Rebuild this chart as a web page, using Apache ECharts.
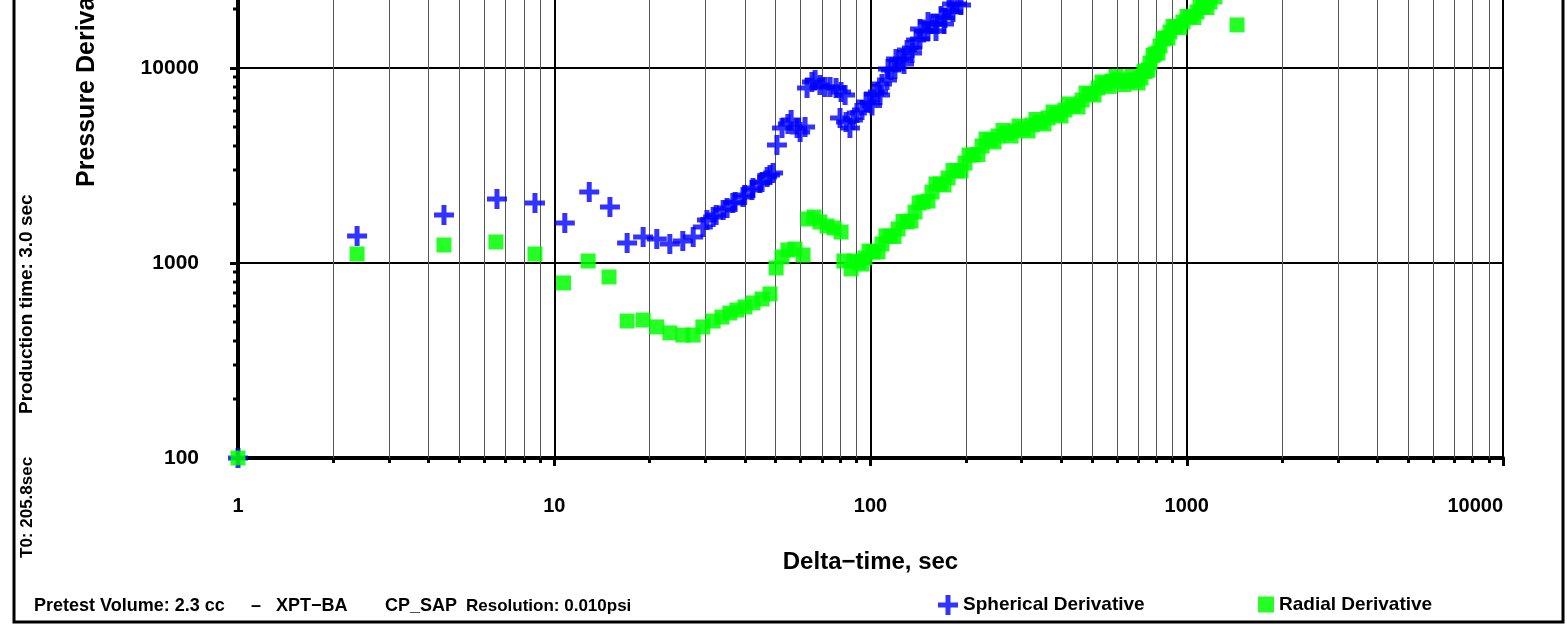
<!DOCTYPE html>
<html><head><meta charset="utf-8">
<script src="https://cdn.jsdelivr.net/npm/echarts@6/dist/echarts.min.js"></script>
<style>html,body{margin:0;padding:0;background:#fff}#c{width:1567px;height:625px}</style>
</head><body><div id="c"></div><script>
// ---- data (delta-time in sec, pressure derivative) ----
const sphericalDerivative = [
[1,100],[2.38,1376],[4.48,1763],[6.59,2130],[8.69,2031],[10.8,1604],[12.9,2313],[15.0,1938],
[17.0,1267],[19.1,1359],[21.1,1328],[23.2,1252],[25.5,1297],[27.5,1359],[29.5,1530],[30.4,1661],
[31.8,1721],[32.5,1763],[34.2,1870],[35.2,1915],[36.7,2031],[37.3,2055],[39.5,2181],[40.0,2232],
[42.2,2368],[42.5,2425],[44.7,2572],[45.4,2603],[47.1,2761],[48.1,2828],[49.2,2894],
[50.6,4028],[52.5,4925],[54.8,5163],[56.1,5412],[58.6,4925],[59.9,4697],[62.1,4983],
[63.0,7898],[65.3,8477],[66.8,8679],[69.2,8181],[71.8,7991],[74.5,7991],[77.8,7898],[80.7,7532],[83.1,7270],
[80.1,5541],[83.7,5285],[86.1,4925],[88.0,5412],[90.6,5878],[94.0,6090],[96.8,6693],[99.6,6615],
[101.1,6424],[102.6,7356],[105.6,7532],[107.2,7270],[108.7,8277],[112.8,8679],[113.6,9882],[116.1,9766],
[119.5,9882],[120.4,11120],[123.1,10990],[126.7,11120],[127.6,10480],[130.5,12370],[135.3,12660],[135.3,11940],
[139.3,13920],[143.4,14080],[143.4,15850],[147.7,15480],[152.0,15480],[152.0,17220],[156.5,16810],
[161.1,15480],[162.3,16810],[167.1,18480],[170.8,16810],[172.0,18050],[177.1,19840],[181.0,21290],
[182.3,19380],[187.7,21290],[193.3,21040]
];
const radialDerivative = [
[1,100],[2.38,1112],[4.48,1237],[6.54,1282],[8.69,1112],[10.7,790],[12.8,1024],[14.9,848],
[17.0,504],[19.1,510],[21.1,470],[23.2,438],[25.5,427],[27.5,427],[29.5,470],[31.8,504],[33.9,528],
[35.9,554],[37.8,574],[40.1,595],[42.5,624],[45.4,654],[48.1,694],[50.3,943],[52.5,1074],[54.8,1166],
[57.7,1180],[61.2,1099],[63.4,1681],[66.3,1721],[69.2,1623],[72.9,1548],[76.7,1512],[80.7,1442],
[82.4,1024],[86.8,932],[88.7,1024],[91.3,1012],[94.0,988],[96.1,1061],[98.9,1152],[101.8,1139],[105.6,1139],
[108.7,1252],[111.9,1376],[115.3,1376],[118.7,1368],[122.2,1494],[126.7,1633],[130.5,1623],[134.3,1642],
[138.3,1826],[142.4,2031],[146.6,2055],[152.0,2079],[156.5,2313],[161.1,2542],[165.9,2542],[170.8,2512],
[175.9,2729],[182.3,2982],[187.7,2964],[193.3,2964],[199.0,3257],[204.9,3579],[210.9,3579],[218.8,3600],
[225.3,3981],[231.9,4324],[238.8,4273],[245.8,4174],[253.1,4480],[262.4,4782],[270.2,4642],[278.2,4480],
[286.4,4753],[294.9,5042],[303.6,4866],[314.8,4753],[324.2,5103],[333.7,5443],[343.6,5285],[353.7,5163],
[364.2,5541],[377.7,5948],[388.9,5808],[400.4,5674],[412.1,6090],[424.4,6539],[436.9,6385],[453.2,6310],
[466.5,6854],[480.3,7443],[494.5,7356],[509.2,7270],[524.1,7898],[539.7,8477],[551.5,8277],[567.9,8042],
[580.2,8577],[597.4,9046],[615.0,8679],[633.3,8229],[652.0,8577],[671.3,9046],[686.2,8679],[701.3,8376],
[716.8,8886],[732.5,9597],[743.3,9652],[754.2,9766],[765.3,10608],[782.2,11590],[793.7,11800],[811.2,11940],
[823.1,12966],[841.3,14080],[853.6,14250],[872.5,14250],[885.2,15300],[904.7,16330],[924.7,16230],
[952.1,16140],[973.0,17220],[1002,18370],[1024,18260],[1054,18160],[1078,19380],[1101,20680],[1126,20550],
[1159,20430],[1185,21800],[1228,23130],[1442,16630]
];
const xMinorTicks = [2,3,4,5,6,7,8,9,20,30,40,50,60,70,80,90,200,300,400,500,600,700,800,900,2000,3000,4000,5000,6000,7000,8000,9000];
const yMinorTicks = [200,300,400,500,600,700,800,900,2000,3000,4000,5000,6000,7000,8000,9000,20000,30000,40000,50000,60000,70000,80000,90000];
const seriesNames = ['Spherical Derivative','Radial Derivative'];
const xTitle = 'Delta\u2212time, sec';
const yTitle = 'Pressure Derivative, psi';

const FONT = '"Liberation Sans", Arial, sans-serif';
const chart = echarts.init(document.getElementById('c'), null, {renderer:'canvas'});
const crossPath = 'path://M7.5,0H12.5V7.5H20V12.5H12.5V20H7.5V12.5H0V7.5H7.5Z';

chart.setOption({
  animation:false,
  backgroundColor:'#fff',
  grid:{left:238,right:64,top:-127,bottom:167,containLabel:false,outerBoundsMode:'none'},
  xAxis:{
    type:'log',logBase:10,min:1,max:10000,
    name:xTitle,nameLocation:'middle',nameGap:92,
    nameTextStyle:{fontFamily:FONT,fontWeight:'bold',fontSize:24,color:'#000'},
    axisLine:{show:true,lineStyle:{color:'#000',width:4}},
    axisTick:{show:true,length:8,lineStyle:{color:'#000',width:3}},
    axisLabel:{margin:38,fontFamily:FONT,fontWeight:'bold',fontSize:20,color:'#000',
      formatter:v=>String(Math.round(v)),alignMaxLabel:'right'},
    splitLine:{show:true,lineStyle:{color:'#000',width:2}},
    minorTick:{show:false},minorSplitLine:{show:false}
  },
  yAxis:{
    type:'log',logBase:10,min:100,max:100000,
    axisLine:{show:true,lineStyle:{color:'#000',width:4}},
    axisTick:{show:true,length:8,lineStyle:{color:'#000',width:3}},
    axisLabel:{margin:39,fontFamily:FONT,fontWeight:'bold',fontSize:21,color:'#000',
      formatter:v=>String(Math.round(v))},
    splitLine:{show:true,lineStyle:{color:'#000',width:2}},
    minorTick:{show:false},minorSplitLine:{show:false}
  },
  legend:[
    {data:[{name:seriesNames[0],icon:crossPath}],left:938,top:595,padding:0,itemWidth:20,itemHeight:20,
     textStyle:{fontFamily:FONT,fontWeight:'bold',fontSize:19,color:'#000'},selectedMode:false},
    {data:[{name:seriesNames[1],icon:'rect'}],left:1258,top:595,padding:0,itemWidth:16,itemHeight:16,
     textStyle:{fontFamily:FONT,fontWeight:'bold',fontSize:19,color:'#000'},selectedMode:false}
  ],
  series:[
    {type:'custom',silent:true,clip:false,z:1,
     data:xMinorTicks.map(v=>[v,100]),
     renderItem:(params,api)=>{
       const cs=params.coordSys;
       const x=Math.round(api.coord([api.value(0),100])[0])+0.5;
       const b=cs.y+cs.height;
       return {type:'group',children:[
         {type:'line',shape:{x1:x,y1:cs.y,x2:x,y2:b},style:{stroke:'#555',lineWidth:1}},
         {type:'line',shape:{x1:x,y1:b,x2:x,y2:b+5},style:{stroke:'#000',lineWidth:3}}
       ]};
     }},
    {type:'custom',silent:true,clip:false,z:1,
     data:yMinorTicks.map(v=>[1,v]),
     renderItem:(params,api)=>{
       const cs=params.coordSys;
       const y=Math.round(api.coord([1,api.value(1)])[1]);
       return {type:'line',shape:{x1:cs.x-5,y1:y,x2:cs.x,y2:y},style:{stroke:'#000',lineWidth:3}};
     }},
    {name:seriesNames[0],type:'scatter',data:sphericalDerivative,symbol:crossPath,symbolSize:20,z:3,
     itemStyle:{color:'#0000ff',opacity:0.8}},
    {name:seriesNames[1],type:'scatter',data:radialDerivative,symbol:'rect',symbolSize:15,z:4,
     itemStyle:{color:'#00ff00',opacity:0.85}}
  ],
  graphic:[
    {type:'rect',shape:{x:14,y:-10,width:1549,height:632},style:{fill:'none',stroke:'#000',lineWidth:3},silent:true},
    {type:'text',x:87,y:187,rotation:Math.PI/2,style:{text:yTitle,x:0,y:0,align:'left',verticalAlign:'middle',
      font:'bold 25px '+FONT,fill:'#000'}},
    {type:'text',x:27,y:414,rotation:Math.PI/2,style:{text:'Production time: 3.0 sec',x:0,y:0,align:'left',verticalAlign:'middle',
      font:'bold 19px '+FONT,fill:'#000'}},
    {type:'text',x:27,y:558,rotation:Math.PI/2,style:{text:'T0: 205.8sec',x:0,y:0,align:'left',verticalAlign:'middle',
      font:'bold 17px '+FONT,fill:'#000'}},
    {type:'text',x:34,y:606,style:{text:'Pretest Volume: 2.3 cc',align:'left',verticalAlign:'middle',font:'bold 18px '+FONT,fill:'#000'}},
    {type:'text',x:251,y:606,style:{text:'\u2013',align:'left',verticalAlign:'middle',font:'bold 18px '+FONT,fill:'#000'}},
    {type:'text',x:276,y:606,style:{text:'XPT\u2212BA',align:'left',verticalAlign:'middle',font:'bold 18px '+FONT,fill:'#000'}},
    {type:'text',x:385,y:606,style:{text:'CP_SAP',align:'left',verticalAlign:'middle',font:'bold 18px '+FONT,fill:'#000'}},
    {type:'text',x:466,y:606,style:{text:'Resolution: 0.010psi',align:'left',verticalAlign:'middle',font:'bold 17px '+FONT,fill:'#000'}}
  ]
});
</script></body></html>
